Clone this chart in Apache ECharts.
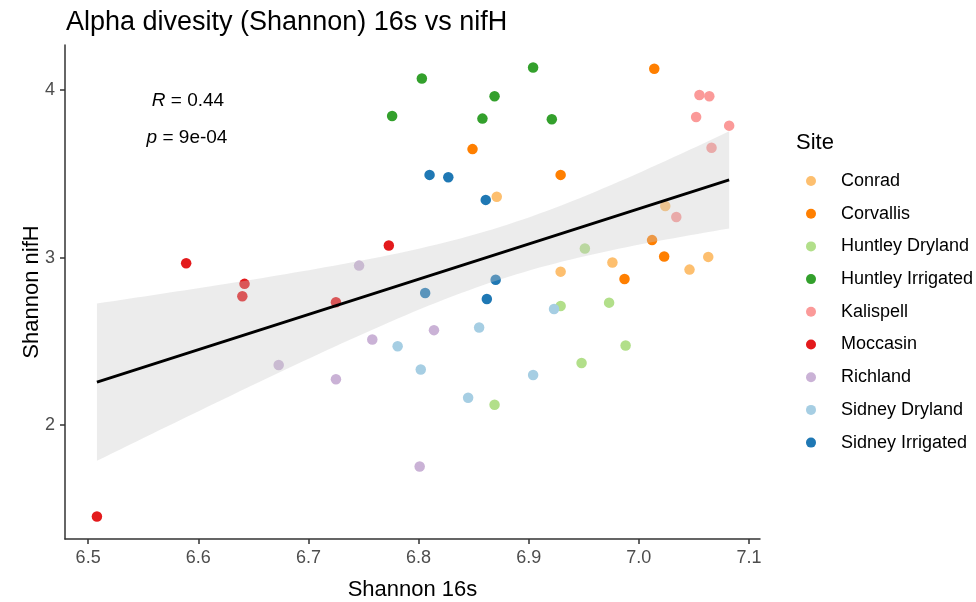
<!DOCTYPE html>
<html>
<head>
<meta charset="utf-8">
<script src="https://cdn.jsdelivr.net/npm/echarts@6/dist/echarts.min.js"></script>
<style>
  html, body { margin: 0; padding: 0; background: #fff; }
  #chart { width: 976px; height: 602px; }
</style>
</head>
<body>
<div id="chart"></div>
<script>
// --- data: [Shannon 16s, Shannon nifH] ---
var sites = ['Conrad', 'Corvallis', 'Huntley Dryland', 'Huntley Irrigated', 'Kalispell',
  'Moccasin', 'Richland', 'Sidney Dryland', 'Sidney Irrigated'];

var conrad = [[6.871, 3.363], [7.024, 3.308], [7.063, 3.004], [6.976, 2.970], [6.929, 2.916], [7.046, 2.928]];
var corvallis = [[7.014, 4.126], [6.849, 3.647], [6.929, 3.493], [7.012, 3.104], [7.023, 3.006], [6.987, 2.872]];
var huntleyDryland = [[6.951, 3.054], [6.929, 2.711], [6.973, 2.731], [6.988, 2.475], [6.948, 2.371], [6.869, 2.122]];
var huntleyIrrigated = [[6.803, 4.068], [6.904, 4.134], [6.869, 3.962], [6.858, 3.829], [6.921, 3.825], [6.776, 3.844]];
var kalispell = [[7.055, 3.970], [7.064, 3.962], [7.052, 3.838], [7.082, 3.787], [7.066, 3.655], [7.034, 3.242]];
var moccasin = [[6.508, 1.455], [6.589, 2.966], [6.773, 3.072], [6.642, 2.843], [6.640, 2.769], [6.725, 2.733]];
var richland = [[6.746, 2.952], [6.758, 2.511], [6.673, 2.359], [6.725, 2.274], [6.814, 2.567], [6.801, 1.753]];
var sidneyDryland = [[6.781, 2.471], [6.802, 2.332], [6.845, 2.164], [6.904, 2.299], [6.855, 2.583], [6.923, 2.693]];
var sidneyIrrigated = [[6.810, 3.493], [6.827, 3.479], [6.861, 3.344], [6.870, 2.868], [6.806, 2.789], [6.862, 2.753]];

var siteData = [conrad, corvallis, huntleyDryland, huntleyIrrigated, kalispell,
  moccasin, richland, sidneyDryland, sidneyIrrigated];

var xTicks = [6.5, 6.6, 6.7, 6.8, 6.9, 7.0, 7.1];
var yTicks = [2, 3, 4];
var statR = '0.44';
var statP = '9e-04';

var colors = ['#FDBF6F', '#FF7F00', '#B2DF8A', '#33A02C', '#FB9A99',
  '#E31A1C', '#CAB2D6', '#A6CEE3', '#1F78B4'];

// --- linear fit with 95% confidence band (like geom_smooth(method = lm)) ---
var all = [];
siteData.forEach(function(d) { all = all.concat(d); });
var n = all.length;
var mx = 0, my = 0;
all.forEach(function(p) { mx += p[0]; my += p[1]; });
mx /= n; my /= n;
var sxx = 0, sxy = 0;
all.forEach(function(p) { sxx += (p[0] - mx) * (p[0] - mx); sxy += (p[0] - mx) * (p[1] - my); });
var slope = sxy / sxx;
var icpt = my - slope * mx;
var sse = 0;
all.forEach(function(p) { var r = p[1] - (icpt + slope * p[0]); sse += r * r; });
var sRes = Math.sqrt(sse / (n - 2));
var tCrit = 2.0066;
var xMin = Math.min.apply(null, all.map(function(p) { return p[0]; }));
var xMax = Math.max.apply(null, all.map(function(p) { return p[0]; }));

var upper = [], lower = [];
for (var i = 0; i <= 80; i++) {
  var x = xMin + (xMax - xMin) * i / 80;
  var yh = icpt + slope * x;
  var se = sRes * Math.sqrt(1 / n + (x - mx) * (x - mx) / sxx);
  upper.push([x, yh + tCrit * se]);
  lower.push([x, yh - tCrit * se]);
}
var bandPoly = upper.concat(lower.reverse());
var fitLine = [[xMin, icpt + slope * xMin], [xMax, icpt + slope * xMax]];

var font = 'Liberation Sans, Arial, sans-serif';

var series = sites.map(function(name, k) {
  return {
    name: name,
    type: 'scatter',
    data: siteData[k],
    symbolSize: 10.5,
    itemStyle: { color: colors[k], opacity: 1 },
    z: 2
  };
});

// ribbon drawn over the points, as ggplot does
series.push({
  type: 'custom',
  name: 'band',
  data: [[xMin, icpt]],
  silent: true,
  z: 3,
  renderItem: function(params, api) {
    return {
      type: 'polygon',
      shape: { points: bandPoly.map(function(p) { return api.coord(p); }) },
      style: { fill: 'rgba(200,200,200,0.35)' }
    };
  }
});

series.push({
  type: 'line',
  name: 'fit',
  data: fitLine,
  symbol: 'none',
  silent: true,
  lineStyle: { color: '#000', width: 2.8 },
  z: 4
});

var chart = echarts.init(document.getElementById('chart'), null, { renderer: 'canvas' });
chart.setOption({
  animation: false,
  backgroundColor: '#fff',
  title: {
    text: 'Alpha divesity (Shannon) 16s vs nifH',
    left: 61,
    top: 2,
    textStyle: { fontFamily: font, fontSize: 27, fontWeight: 'normal', color: '#000', lineHeight: 32 }
  },
  grid: { left: 65, right: 216, top: 45, bottom: 63, containLabel: false, outerBoundsMode: 'none' },
  xAxis: {
    type: 'value',
    min: 6.479,
    max: 7.11,
    name: 'Shannon 16s',
    nameLocation: 'middle',
    nameGap: 40,
    nameMoveOverlap: false,
    nameTextStyle: { fontFamily: font, fontSize: 22, color: '#000' },
    axisLine: { show: true, lineStyle: { color: '#333', width: 1.5 } },
    axisTick: { show: true, length: 5, customValues: xTicks, lineStyle: { color: '#333', width: 1.5 } },
    axisLabel: {
      customValues: xTicks, margin: 10, fontFamily: font, fontSize: 18, color: '#4D4D4D',
      formatter: function(v) { return v.toFixed(1); }
    },
    splitLine: { show: false }
  },
  yAxis: {
    type: 'value',
    min: 1.321,
    max: 4.268,
    name: 'Shannon nifH',
    nameLocation: 'middle',
    nameGap: 22,
    nameMoveOverlap: false,
    nameTextStyle: { fontFamily: font, fontSize: 22, color: '#000' },
    axisLine: { show: true, lineStyle: { color: '#333', width: 1.5 } },
    axisTick: { show: true, length: 5, customValues: yTicks, lineStyle: { color: '#333', width: 1.5 } },
    axisLabel: {
      customValues: yTicks, margin: 10, fontFamily: font, fontSize: 18, color: '#4D4D4D',
      formatter: function(v) { return String(v); }
    },
    splitLine: { show: false }
  },
  legend: {
    data: sites,
    orient: 'vertical',
    left: 801,
    top: 167,
    icon: 'circle',
    itemWidth: 50,
    itemHeight: 10,
    itemGap: 14.7,
    textStyle: { fontFamily: font, fontSize: 18, color: '#000', lineHeight: 18 }
  },
  graphic: [
    {
      type: 'text', left: 796, top: 132,
      style: { text: 'Site', font: '22px ' + font, fill: '#000' }
    },
    {
      type: 'text', x: 188, y: 101,
      style: {
        text: '{i|R} = ' + statR, textAlign: 'center', textVerticalAlign: 'middle',
        font: '19px ' + font, fill: '#000',
        rich: { i: { fontStyle: 'italic', fontFamily: font, fontSize: 19, fill: '#000' } }
      }
    },
    {
      type: 'text', x: 187, y: 138,
      style: {
        text: '{i|p} = ' + statP, textAlign: 'center', textVerticalAlign: 'middle',
        font: '19px ' + font, fill: '#000',
        rich: { i: { fontStyle: 'italic', fontFamily: font, fontSize: 19, fill: '#000' } }
      }
    }
  ],
  series: series
});
</script>
</body>
</html>
